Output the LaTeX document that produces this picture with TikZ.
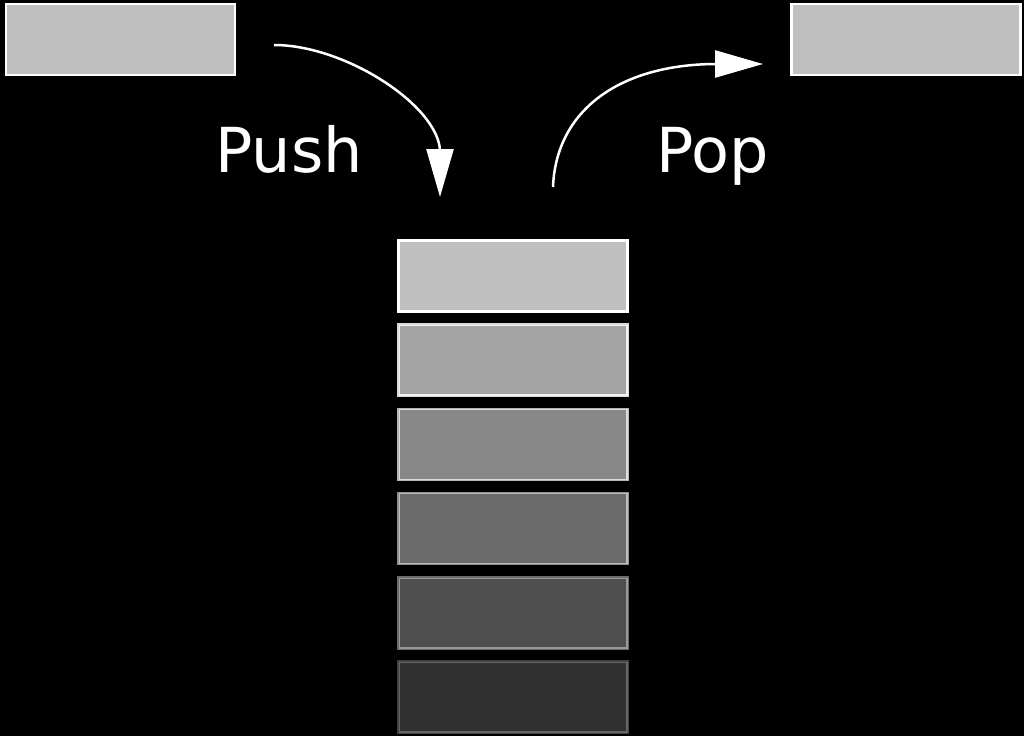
\documentclass[tikz,border=0pt]{standalone}
\usepackage{fontspec}
\setmainfont{DejaVu Sans}
\usetikzlibrary{arrows.meta}
\definecolor{boxgray}{HTML}{C0C0C0}
\tikzset{
  card/.style={draw=white, fill=boxgray, line width=2.5pt, minimum width=229pt, minimum height=71pt, inner sep=0pt, outer sep=0pt},
  flow/.style={draw=white, line width=2.5pt, -{Triangle[length=48pt,width=27pt]}},
  lbl/.style={text=white, font=\fontsize{62}{74}\selectfont, anchor=base, inner sep=0pt}
}
\begin{document}
\begin{tikzpicture}[x=1pt, y=-1pt]
\fill[black] (0,0) rectangle (1024,736);
\useasboundingbox (0,0) rectangle (1024,736);
\node[card] (inbox) at (120.5,39.5) {};
\node[card] (outbox) at (906,39.5) {};
\node[card] (s1) at (513,276) {};
\node[card, opacity=0.854] (s2) at (513,360) {};
\node[card, opacity=0.708] (s3) at (513,444.5) {};
\node[card, opacity=0.5625] (s4) at (513,528.5) {};
\node[card, opacity=0.417] (s5) at (513,613) {};
\node[card, opacity=0.26] (s6) at (513,697) {};
\node[lbl] (push) at (289,172) {Push};
\node[lbl] (pop) at (713,172) {Pop};
\coordinate (pushstart) at (274,45);
\coordinate (pushbend) at (440,150);
\coordinate (pushend) at (440,197);
\coordinate (popstart) at (553,187);
\coordinate (popbend) at (717,64);
\coordinate (popend) at (763,64);
\draw[flow] (pushstart) .. controls (345,45) and (437,105) .. (pushbend) -- (pushend);
\draw[flow] (popstart) .. controls (556,110) and (620,64) .. (popbend) -- (popend);
\end{tikzpicture}
\end{document}
